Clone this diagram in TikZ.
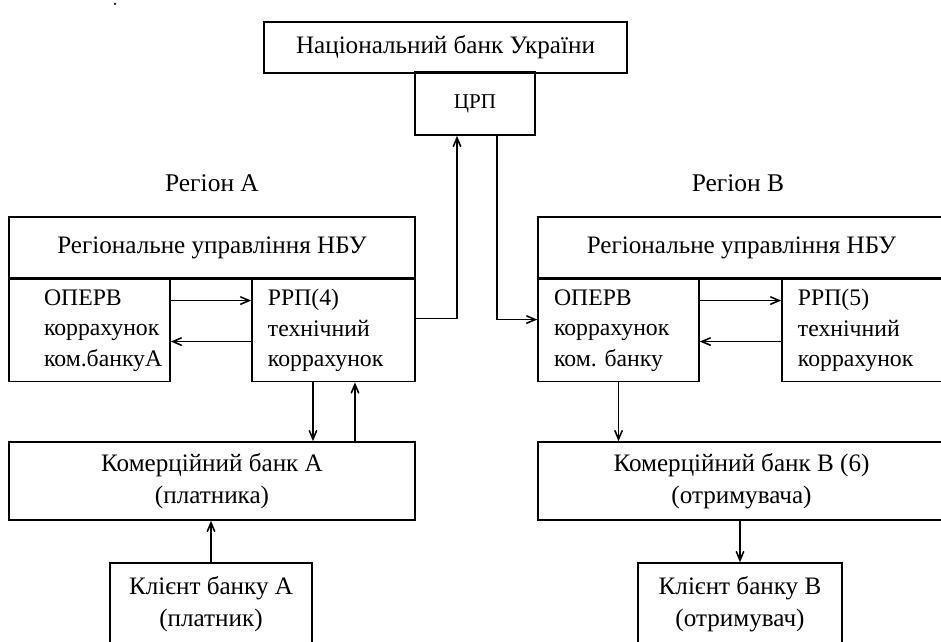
\documentclass[tikz,border=0pt]{standalone}
\usepackage{fontspec}
\setmainfont{Liberation Serif}
\usetikzlibrary{arrows, positioning}
\tikzstyle{bank} = [rectangle, draw, line width=0.9pt, inner sep=0pt, align=center]
\tikzstyle{account} = [rectangle, draw, line width=0.9pt, minimum width=3.22cm, minimum height=2.04cm, inner xsep=0.32cm, inner ysep=0pt, align=left, font=\fontsize{13.5}{17.5}\selectfont]
\tikzstyle{heavy} = [line width=1.8pt]
\tikzstyle{flow} = [line width=0.9pt, ->, >=angle 45]

\begin{document}
\begin{tikzpicture}[x=0.02cm, y=-0.02cm, font=\fontsize{14.3}{18}\selectfont]
  \useasboundingbox (0,0) rectangle (941,642);
  \fill[white] (0,0) rectangle (941,642);
  \clip (0,0) rectangle (941,642);
  \node (dot) [circle, fill, inner sep=0pt, minimum size=0.05cm] at (115,4) {};
  \node (nbu) [bank, minimum width=7.26cm, minimum height=1.02cm] at (445.5,47.5) {Національний банк України};
  \node (crp) [bank, minimum width=2.4cm, minimum height=1.24cm, font=\fontsize{12}{14}\selectfont] at (475,104) {ЦРП};
  \draw [heavy] (crp.north west) -- (crp.north east);
  \node (regA) [font=\fontsize{14.5}{18}\selectfont] at (212,183) {Регіон А};
  \node (regB) [font=\fontsize{14.5}{18}\selectfont] at (738,183) {Регіон В};
  % region A
  \node (hdrA) [bank, minimum width=8.12cm, minimum height=1.22cm] at (212,247.5) {Регіональне управління НБУ};
  \node (operA) [account, below right=0pt of hdrA.south west, text width=1.82cm, inner xsep=0.7cm] {ОПЕРВ\\коррахунок\\ком.банкуА};
  \node (rrpA) [account, below left=0pt of hdrA.south east, minimum width=3.26cm, text width=2.62cm] {РРП(4)\\технічний\\коррахунок};
  \draw [heavy] (hdrA.south west) -- (hdrA.south east);
  % region B
  \node (hdrB) [bank, minimum width=8.14cm, minimum height=1.22cm] at (741.5,247.5) {Регіональне управління НБУ};
  \node (operB) [account, below right=0pt of hdrB.south west, text width=2.58cm] {ОПЕРВ\\коррахунок\\ком.\ банку};
  \node (rrpB) [account, below left=0pt of hdrB.south east, minimum width=3.26cm, text width=2.62cm] {РРП(5)\\технічний\\коррахунок};
  \draw [heavy] (hdrB.south west) -- (hdrB.south east);
  % banks and clients
  \node (kbA) [bank, minimum width=8.12cm, minimum height=1.56cm] at (212,481) {Комерційний банк А\\(платника)};
  \node (kbB) [bank, minimum width=8.14cm, minimum height=1.56cm] at (741.5,481) {Комерційний банк В (6)\\(отримувача)};
  \node (clA) [bank, minimum width=4.04cm, minimum height=1.64cm] at (211,604) {Клієнт банку А\\(платник)};
  \node (clB) [bank, minimum width=4.08cm, minimum height=1.64cm] at (740,604) {Клієнт банку В\\(отримувач)};
  % flows
  \draw [flow] ([yshift=0.6cm]operA.east) -- ([yshift=0.6cm]rrpA.west);
  \draw [flow] ([yshift=-0.22cm]rrpA.west) -- ([yshift=-0.22cm]operA.east);
  \draw [flow] ([yshift=0.6cm]operB.east) -- ([yshift=0.6cm]rrpB.west);
  \draw [flow] ([yshift=-0.22cm]rrpB.west) -- ([yshift=-0.22cm]operB.east);
  \draw [flow] ([yshift=0.24cm]rrpA.east) -| ([xshift=-0.36cm]crp.south);
  \draw [flow] ([xshift=0.44cm]crp.south) |- ([yshift=0.22cm]operB.west);
  \draw [flow] ([xshift=-0.41cm]rrpA.south) -- ([xshift=-0.41cm]rrpA.south |- kbA.north);
  \draw [flow] ([xshift=0.43cm]rrpA.south |- kbA.north) -- ([xshift=0.43cm]rrpA.south);
  \draw [flow] (clA.north) -- (clA.north |- kbA.south);
  \draw [flow] (operB.south) -- (operB.south |- kbB.north);
  \draw [flow] (clB.north |- kbB.south) -- (clB.north);
\end{tikzpicture}
\end{document}
